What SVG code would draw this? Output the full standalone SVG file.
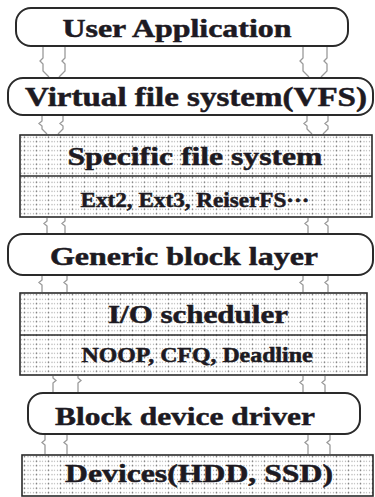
<svg xmlns="http://www.w3.org/2000/svg" width="375" height="497" viewBox="0 0 375 497">
<defs>
<pattern id="dots" x="20" y="0" width="12" height="4.5" patternUnits="userSpaceOnUse">
<circle cx="1.5" cy="2.2" r="0.7" fill="#a8a8a8"/>
<circle cx="4.5" cy="2.2" r="0.8" fill="#6a6a6a"/>
<circle cx="8" cy="2.2" r="0.7" fill="#a0a0a0"/>
<circle cx="10.5" cy="2.2" r="0.7" fill="#b8b8b8"/>
</pattern>
<style>
.rb{fill:#fff;stroke:#2a2a2a;stroke-width:2}
.sq{fill:url(#dots);stroke:#2a2a2a;stroke-width:1.6}
.dv{stroke:#2a2a2a;stroke-width:1.6}
.t{font-family:"Liberation Serif","DejaVu Serif",serif;font-weight:bold;fill:#1d1a22;stroke:#1d1a22;stroke-width:0.5;text-anchor:middle}
.c{fill:none;stroke:#9a9a9a;stroke-width:1.3}
</style>
</defs>
<rect width="375" height="497" fill="#fff"/>
<g id="connectors">
<path class="c" d="M43 46V58l-3 3 3 3V71L49 77 M65 46V58l-3 3 3 3V71L59 77"/>
<path class="c" d="M303 46V58l-3 3 3 3V71L309 77 M327 46V58l-3 3 3 3V71L321 77"/>
<path class="c" d="M42 116V121l-3 2.5 3 2.5V129L47 134 M63 116V121l-3 2.5 3 2.5V129L58 134"/>
<path class="c" d="M307 116V121l-3 2.5 3 2.5V129L312 134 M328 116V121l-3 2.5 3 2.5V129L323 134"/>
<path class="c" d="M47 218V221l-3 2.5 3 2.5V233 M65 218V221l-3 2.5 3 2.5V233"/>
<path class="c" d="M308 218V221l-3 2.5 3 2.5V233 M328 218V221l-3 2.5 3 2.5V233"/>
<path class="c" d="M42 276V280l-3 2.5 3 2.5V292 M67 276V280l-3 2.5 3 2.5V292"/>
<path class="c" d="M303 276V280l-3 2.5 3 2.5V292 M328 276V280l-3 2.5 3 2.5V292"/>
<path class="c" d="M53 376V378l3 2.5-3 2.5V392 M78 376V378l3 2.5-3 2.5V392"/>
<path class="c" d="M303 376V380l-3 2.5 3 2.5V392 M325 376V380l-3 2.5 3 2.5V392"/>
<path class="c" d="M45 435V440l-3 2.5 3 2.5V454 M67 435V440l-3 2.5 3 2.5V454"/>
<path class="c" d="M308 435V440l-3 2.5 3 2.5V454 M330 435V440l-3 2.5 3 2.5V454"/>
</g>
<g id="user-application">
<rect class="rb" x="16" y="8" width="332" height="38" rx="15"/>
<text class="t" x="177" y="37" font-size="25" textLength="229" lengthAdjust="spacingAndGlyphs">User Application</text>
</g>
<g id="vfs">
<rect class="rb" x="8" y="78" width="365" height="37" rx="15"/>
<text class="t" x="196" y="106" font-size="27" textLength="342" lengthAdjust="spacingAndGlyphs">Virtual file system(VFS)</text>
</g>
<g id="specific-fs">
<rect class="sq" x="20" y="135" width="352" height="82"/>
<line class="dv" x1="20" y1="176" x2="372" y2="176"/>
<text class="t" x="195" y="165" font-size="25" textLength="255" lengthAdjust="spacingAndGlyphs">Specific file system</text>
<text class="t" x="195" y="207" font-size="20" textLength="229" lengthAdjust="spacingAndGlyphs">Ext2, Ext3, ReiserFS···</text>
</g>
<g id="generic-block">
<rect class="rb" x="8" y="234" width="365" height="41" rx="15"/>
<text class="t" x="184" y="265" font-size="25" textLength="268" lengthAdjust="spacingAndGlyphs">Generic block layer</text>
</g>
<g id="io-scheduler">
<rect class="sq" x="20" y="293" width="347" height="82"/>
<line class="dv" x1="20" y1="335" x2="367" y2="335"/>
<text class="t" x="198" y="323" font-size="25" textLength="180" lengthAdjust="spacingAndGlyphs">I/O scheduler</text>
<text class="t" x="197" y="362" font-size="20" textLength="231" lengthAdjust="spacingAndGlyphs">NOOP, CFQ, Deadline</text>
</g>
<g id="block-device-driver">
<rect class="rb" x="28" y="393" width="332" height="41" rx="15"/>
<text class="t" x="185" y="425" font-size="26" textLength="260" lengthAdjust="spacingAndGlyphs">Block device driver</text>
</g>
<g id="devices">
<rect class="sq" x="22" y="455" width="351" height="41"/>
<text class="t" x="199" y="482" font-size="26" textLength="268" lengthAdjust="spacingAndGlyphs">Devices(HDD, SSD)</text>
</g>
</svg>
